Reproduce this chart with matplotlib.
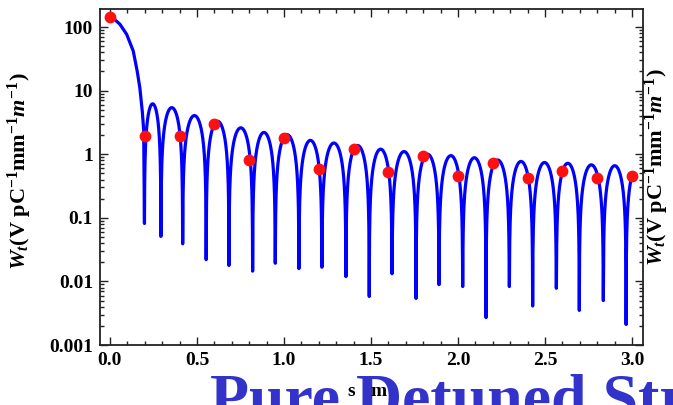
import numpy as np
import matplotlib
matplotlib.use('Agg')
import matplotlib.pyplot as plt
import matplotlib.ticker as ticker

# ─────────────────────────────────────────────
# Data
# ─────────────────────────────────────────────

# first (big) lobe, s in m, wake in V/pC/mm/m
head_s = [0.0, 0.03, 0.057, 0.096, 0.134, 0.157, 0.172, 0.186, 0.194]
head_w = [140, 129, 111, 77, 42, 20, 11, 4.7, 2.4]

# zero crossings (cusps) of the wake and how deep the plotted cusp goes
cusp_s = [0.198, 0.293, 0.418, 0.553, 0.684, 0.820, 0.950, 1.086, 1.218,
          1.356, 1.490, 1.621, 1.759, 1.891, 2.027, 2.161, 2.295, 2.429,
          2.565, 2.697, 2.835, 2.966]
cusp_w = [0.117, 0.051, 0.039, 0.022, 0.0178, 0.0145, 0.0193, 0.0159, 0.0167,
          0.0119, 0.0058, 0.0132, 0.0054, 0.0089, 0.0083, 0.0027, 0.0083,
          0.0041, 0.0078, 0.0035, 0.0050, 0.0021]

# peak value of each lobe between two cusps
lobe_peak = [6.2, 5.4, 4.05, 3.3, 2.6, 2.2, 2.03, 1.65, 1.5, 1.37, 1.2,
             1.1, 1.0, 0.95, 0.88, 0.81, 0.77, 0.74, 0.72, 0.68, 0.66]
last_peak = 0.64
s_end = 3.0

# red points
dot_s = [0.0, 0.2, 0.4, 0.6, 0.8, 1.0, 1.2, 1.4, 1.6, 1.8, 2.0, 2.2, 2.4,
         2.6, 2.8, 3.0]
dot_w = [142, 1.9, 1.9, 3.03, 0.81, 1.80, 0.59, 1.22, 0.52, 0.94, 0.46,
         0.72, 0.43, 0.55, 0.43, 0.46]

yticks = [0.001, 0.01, 0.1, 1, 10, 100]
ytick_labels = ['0.001', '0.01', '0.1', '1', '10', '100']

# ─────────────────────────────────────────────
# Build the curve: lobes are drawn as arches between the cusps
# ─────────────────────────────────────────────

def lobe(c0, c1, peak, n=240):
    s = np.linspace(c0, c1, n)[1:-1]
    return s, peak * np.abs(np.sin(np.pi * (s - c0) / (c1 - c0)))

xs = list(head_s)
ys = list(head_w)
for i, p in enumerate(lobe_peak):
    xs.append(cusp_s[i]); ys.append(cusp_w[i])
    s, w = lobe(cusp_s[i], cusp_s[i + 1], p)
    xs.extend(s); ys.extend(w)
xs.append(cusp_s[-1]); ys.append(cusp_w[-1])
period = cusp_s[-1] - cusp_s[-2]
s = np.linspace(cusp_s[-1], s_end, 40)[1:]
xs.extend(s)
ys.extend(last_peak * np.sin(np.pi * (s - cusp_s[-1]) / period))

# ─────────────────────────────────────────────
# Plot
# ─────────────────────────────────────────────

plt.rcParams['mathtext.fontset'] = 'custom'
plt.rcParams['mathtext.rm'] = 'Liberation Serif:bold'
plt.rcParams['mathtext.it'] = 'Liberation Serif:italic:bold'
plt.rcParams['mathtext.bf'] = 'Liberation Serif:bold'

SERIF = 'Liberation Serif'

fig = plt.figure(figsize=(6.73, 4.05), dpi=100)
ax = fig.add_axes([100 / 673, 1 - 345 / 405, 543 / 673, 336 / 405])

ax.plot(xs, ys, color='#0000FF', lw=2.3, zorder=2)
ax.plot(dot_s, dot_w, 'o', color='#FF1010', ms=8.5, mec='none', zorder=3)

ax.set_yscale('log')
ax.set_xlim(-0.057, 3.063)
ax.set_ylim(0.001, 192)

ax.xaxis.set_major_locator(ticker.MultipleLocator(0.5))
ax.xaxis.set_minor_locator(ticker.MultipleLocator(0.1))
ax.xaxis.set_major_formatter(ticker.FormatStrFormatter('%.1f'))
ax.set_yticks(yticks)
ax.set_yticklabels(ytick_labels)
ax.yaxis.set_minor_locator(ticker.LogLocator(base=10, subs=np.arange(2, 10)))
ax.yaxis.set_minor_formatter(ticker.NullFormatter())

ax.tick_params(which='both', direction='in', top=True, right=True,
               color='#222222', width=1.0)
ax.tick_params(which='major', length=6, pad=5)
ax.tick_params(which='minor', length=3)
ax.tick_params(axis='both', which='both', labelsize=14)
for lab in ax.get_xticklabels() + ax.get_yticklabels():
    lab.set_fontfamily(SERIF)
    lab.set_fontweight('bold')
for sp in ax.spines.values():
    sp.set_color('#222222')
    sp.set_linewidth(1.3)

ylab = r'$W_t$(V pC$^{-1}$mm$^{-1}$$m^{-1}$)'
fig.text(20 / 673, 1 - 171 / 405, ylab, rotation=90, ha='center', va='center',
         fontsize=16, fontfamily=SERIF, fontweight='bold')
fig.text(657 / 673, 1 - 167 / 405, ylab, rotation=90, ha='center', va='center',
         fontsize=16, fontfamily=SERIF, fontweight='bold')

# x label, partly hidden behind the big caption in the reference
fig.text(351 / 673, 1 - 392 / 405, 's', ha='center', va='center',
         fontsize=14, fontfamily=SERIF, fontweight='bold', zorder=5)
fig.text(379 / 673, 1 - 392 / 405, 'm', ha='center', va='center',
         fontsize=14, fontfamily=SERIF, fontweight='bold', zorder=5)

fig.text(210 / 673, 1 - 417 / 405, 'Pure Detuned Structure', ha='left',
         va='baseline', fontsize=46, fontfamily=SERIF, fontweight='bold',
         color='#3333CC', zorder=1)

fig.savefig('out.png', dpi=100)
